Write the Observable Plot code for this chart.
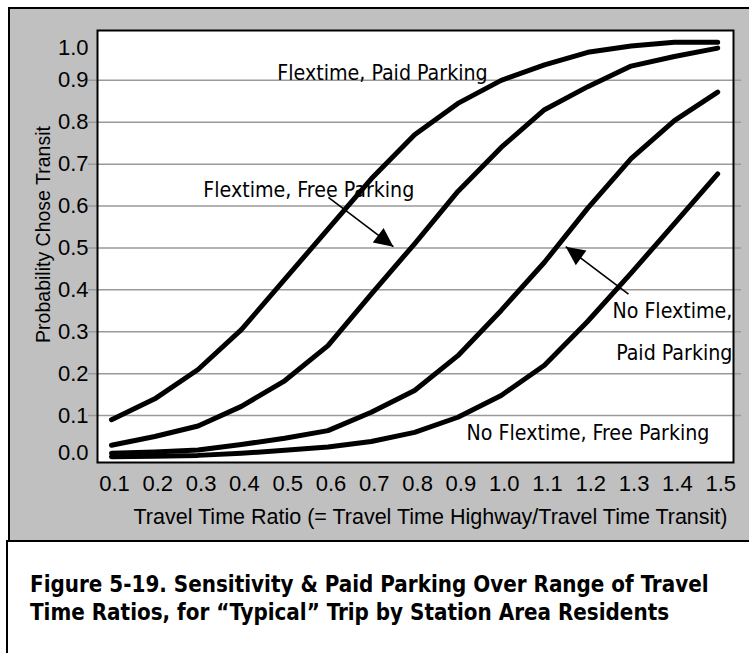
<!DOCTYPE html>
<html><head><meta charset="utf-8">
<script src="https://cdn.jsdelivr.net/npm/d3@7"></script>
<script src="https://cdn.jsdelivr.net/npm/@observablehq/plot@0.6"></script>
<style>
body{margin:0;background:#fff}
#wrap{position:relative;width:749px;height:653px;overflow:hidden;background:#fff}
#panel{position:absolute;left:8px;top:7px;width:800px;height:535px;background:#c0c0c0;border:2px solid #000;box-sizing:border-box}
#capbox{position:absolute;left:6px;top:540px;width:800px;height:200px;border:2px solid #000;box-sizing:border-box;background:#fff}
#chart{position:absolute;left:0;top:0}
#caption{position:absolute;left:30px;top:570px;font:bold 22.2px "Liberation Sans Narrow","DejaVu Sans Condensed",sans-serif;line-height:28px;color:#000;white-space:nowrap}
</style></head>
<body><div id="wrap"><div id="panel"></div><div id="capbox"></div><div id="chart"></div>
<div id="caption">Figure 5-19. Sensitivity &amp; Paid Parking Over Range of Travel<br>Time Ratios, for “Typical” Trip by Station Area Residents</div></div>
<script>
// ---- data ----
const ratios = [0.1,0.2,0.3,0.4,0.5,0.6,0.7,0.8,0.9,1.0,1.1,1.2,1.3,1.4,1.5];
const flexPaid   = [0.090,0.140,0.210,0.305,0.425,0.545,0.665,0.770,0.845,0.900,0.937,0.967,0.982,0.991,0.991];
const flexFree   = [0.029,0.050,0.075,0.122,0.183,0.267,0.390,0.510,0.635,0.740,0.830,0.885,0.934,0.957,0.977];
const noFlexPaid = [0.010,0.013,0.018,0.031,0.046,0.064,0.108,0.160,0.243,0.351,0.466,0.595,0.713,0.804,0.872];
const noFlexFree = [0.002,0.003,0.005,0.010,0.017,0.025,0.038,0.060,0.096,0.148,0.220,0.325,0.440,0.558,0.677];
const seriesNames = ["Flextime, Paid Parking","Flextime, Free Parking","No Flextime, Paid Parking","No Flextime, Free Parking"];
const seriesValues = [flexPaid, flexFree, noFlexPaid, noFlexFree];

const xTicks = [0.1,0.2,0.3,0.4,0.5,0.6,0.7,0.8,0.9,1.0,1.1,1.2,1.3,1.4,1.5];
const yGridTicks = [0.1,0.2,0.3,0.4,0.5,0.6,0.7,0.8,0.9];
const yTopTick = [1.0];
const yBottomTick = [0.0];

const xTitle = "Travel Time Ratio (= Travel Time Highway/Travel Time Transit)";
const yTitle = "Probability Chose Transit";

// annotations
const labelText   = ["Flextime, Paid Parking","Flextime, Free Parking","No Flextime,","Paid Parking","No Flextime, Free Parking"];
const labelX      = [0.483, 0.312, 1.534, 1.534, 1.481];
const labelY      = [0.900, 0.621, 0.334, 0.2315, 0.0406];
const labelAlign  = ["start","start","end","end","end"];

const arrowX1 = [0.601, 1.294];
const arrowY1 = [0.6205, 0.390];
const arrowX2 = [0.751, 1.149];
const arrowY2 = [0.503, 0.503];
const arrowAngle = [127, -54];

// ---- build ----
const rows = [];
seriesNames.forEach((name, i) => seriesValues[i].forEach((v, j) => rows.push({series: name, ratio: ratios[j], p: v})));
const labels = labelText.map((t, i) => ({t, x: labelX[i], y: labelY[i], align: labelAlign[i]}));
const arrows = arrowX1.map((_, i) => ({x1: arrowX1[i], y1: arrowY1[i], x2: arrowX2[i], y2: arrowY2[i], a: arrowAngle[i]}));

const headSymbol = {draw(ctx) { ctx.moveTo(0, 0); ctx.lineTo(-9, 19); ctx.lineTo(9, 19); ctx.closePath(); }};
const narrow = "'Liberation Sans Narrow','DejaVu Sans Condensed',sans-serif";

const chart = Plot.plot({
  width: 749, height: 541,
  marginTop: 30, marginLeft: 97, marginRight: 16, marginBottom: 79,
  style: {background: "transparent", fontFamily: "'Liberation Sans', Arial, sans-serif", color: "#000", overflow: "visible"},
  x: {domain: [0.0677, 1.5365]},
  y: {domain: [-0.012, 1.019]},
  marks: [
    Plot.frame({fill: "white", stroke: "none"}),
    Plot.ruleY(yGridTicks, {stroke: "#9a9a9a", strokeWidth: 1.5, insetLeft: -9, insetRight: -8}),
    Plot.axisX(xTicks, {tickSize: 0, tickPadding: 13, fontSize: 22, tickFormat: ".1f", dx: 3, label: null}),
    Plot.axisY(yGridTicks, {tickSize: 0, tickPadding: 9, fontSize: 22, tickFormat: ".1f", label: null}),
    Plot.axisY(yTopTick, {tickSize: 0, tickPadding: 9, fontSize: 22, tickFormat: ".1f", label: null, dy: 9}),
    Plot.axisY(yBottomTick, {tickSize: 0, tickPadding: 9, fontSize: 22, tickFormat: ".1f", label: null, dy: -5}),
    Plot.line(rows, {x: "ratio", y: "p", z: "series", stroke: "black", strokeWidth: 5, strokeLinejoin: "round"}),
    Plot.frame({stroke: "black", strokeWidth: 2}),
    Plot.text(labels.filter(d => d.align === "start"), {x: "x", y: "y", text: "t", textAnchor: "start", lineAnchor: "bottom", fontSize: 21.2, fontFamily: narrow, fill: "black"}),
    Plot.text(labels.filter(d => d.align === "end"), {x: "x", y: "y", text: "t", textAnchor: "end", lineAnchor: "bottom", fontSize: 21.2, fontFamily: narrow, fill: "black"}),
    Plot.link(arrows, {x1: "x1", y1: "y1", x2: "x2", y2: "y2", stroke: "black", strokeWidth: 1.6}),
    Plot.dot(arrows, {x: "x2", y: "y2", symbol: headSymbol, rotate: "a", fill: "black", stroke: "none"}),
    Plot.text([xTitle], {frameAnchor: "bottom", text: d => d, dx: 15, dy: 55, lineAnchor: "middle", fontSize: 21.5, fill: "black"}),
    Plot.text([yTitle], {frameAnchor: "left", text: d => d, rotate: -90, dx: -54, dy: -12, lineAnchor: "middle", textAnchor: "middle", fontSize: 19.5, fill: "black"})
  ]
});
document.getElementById("chart").appendChild(chart);
</script>
</body></html>
